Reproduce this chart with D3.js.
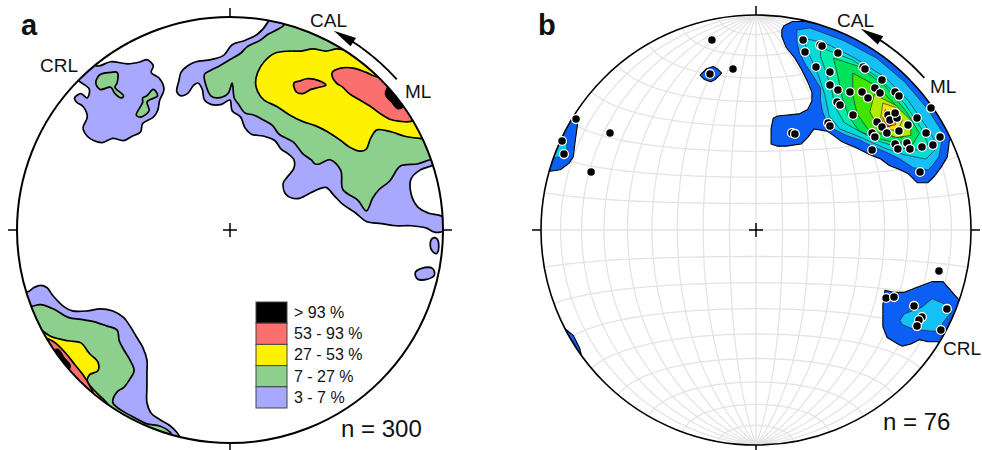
<!DOCTYPE html>
<html><head><meta charset="utf-8">
<script src="https://cdn.jsdelivr.net/npm/d3@7"></script>
<style>body{margin:0;background:#fff}svg{display:block}text{font-family:"Liberation Sans",Arial,Helvetica,sans-serif;fill:#111}</style>
</head><body><svg id="c" width="982" height="450"></svg>
<script>
// ---------- DATA (net coordinates: percent of primitive radius, x east, y north) ----------
// Panel a: contoured density regions (3-7 %, 7-27 %, 27-53 %, 53-93 %, > 93 %)
const aPurple = [
  [[-70,80],[-62,77],[-56,79],[-48,78],[-42,79],[-39,80],[-36,77],[-37,74],[-33,71],[-31,66],[-33,61],[-34,56],[-36,53],[-41,50],[-42,46],[-46,44],[-50,42],[-55,43],[-60,41],[-64,42],[-67,44],[-69,48],[-67,53],[-69,58],[-72,60],[-73,62],[-70,64],[-67,62],[-66,66],[-68,68],[-71,70],[-75,75]],
  [[21,108],[18,98],[13,92],[7,89],[1,87],[-3,82],[-9,80],[-16,79],[-20,77],[-23,74],[-24,70],[-25,65],[-23,63],[-20,64],[-17,68],[-15,69],[-13,66],[-12,61],[-9,59],[-4,59],[0,61],[1,56],[5,53],[7,48],[10,45],[16,44],[21,42],[24,38],[27,36],[30,33],[30,29],[27,25],[25,22],[26,17],[29,15],[33,15],[39,18],[45,20],[49,16],[53,12],[59,8],[64,4],[71,3],[78,2],[85,2],[92,1],[96,-1],[101,0],[100,6],[93,8],[88,11],[85,17],[85,24],[89,28],[97,31],[115,40],[115,120],[21,120]],
  [[-103,-28],[-95,-29],[-92,-27],[-89,-26],[-86,-27],[-83,-31],[-78,-36],[-74,-38],[-67,-38],[-61,-37],[-55,-38],[-50,-41],[-47,-45],[-44,-50],[-41,-55],[-39,-61],[-39,-67],[-39,-74],[-39,-81],[-37,-86],[-33,-89],[-28,-92],[-25,-95],[-22,-100],[-20,-115],[-115,-115],[-115,-28]],
  [[95,-4],[97,-4],[98,-8],[97,-11],[95,-10],[94,-7]],
  [[87,-20],[90,-18],[95,-18],[96,-21],[93,-23],[88,-23]]
];
const aGreen = [
  [[-63,69],[-61,73],[-56,74],[-53,74],[-53,69],[-54,67],[-50,63],[-51,62],[-54,64],[-56,67],[-61,66]],
  [[-36,66],[-34,63],[-38,61],[-39,60],[-38,56],[-42,53],[-44,54],[-42,58],[-41,60],[-41,62],[-39,63]],
  [[30,120],[26,97],[22,94],[18,92],[14,89],[8,86],[5,83],[0,80],[-5,77],[-9,75],[-12,73],[-11,67],[-9,63],[-6,62],[-1,64],[1,69],[2,62],[4,59],[7,55],[11,54],[15,52],[20,49],[23,45],[30,41],[34,36],[38,33],[40,31],[42,31],[47,33],[52,28],[53,19],[60,14],[64,9],[67,15],[70,19],[75,23],[80,30],[88,31],[94,33],[102,34],[120,60],[120,120]],
  [[-115,-36],[-94,-36],[-89,-35],[-83,-37],[-76,-41],[-70,-42],[-64,-43],[-58,-45],[-53,-47],[-52,-52],[-50,-56],[-47,-61],[-45,-66],[-47,-70],[-50,-74],[-53,-76],[-55,-81],[-52,-84],[-45,-88],[-39,-91],[-33,-92],[-28,-95],[-27,-97],[-25,-115],[-115,-115]]
];
const aYellow = [
  [[66,99],[56,85],[50,85],[45,84],[39,85],[33,84],[28,84],[21,83],[16,79],[13,74],[12,69],[13,65],[16,61],[22,58],[28,54],[34,51],[40,49],[46,46],[52,42],[56,39],[61,37],[64,38],[66,43],[69,47],[76,46],[82,44],[89,43],[99,43],[120,60],[110,110]],
  [[-99,-42],[-90,-46],[-84,-50],[-76,-52],[-70,-53],[-66,-58],[-62,-62],[-62,-66],[-66,-68],[-67,-71],[-64,-75],[-61,-78],[-58,-81],[-55,-85],[-54,-88],[-60,-100],[-110,-60]]
];
const aRed = [
  [[30,69],[33,70],[36,71],[42,70],[45,68],[42,67],[38,66],[34,64],[31,65]],
  [[48,74],[52,76],[58,76],[64,74],[69,72],[78,75],[94,61],[88,53],[85,51],[80,51],[75,52],[70,55],[66,58],[61,61],[56,64],[53,67],[50,69],[48,72]],
  [[-94,-52],[-86,-51],[-82,-53],[-77,-58],[-73,-63],[-69,-68],[-66,-73],[-64,-78],[-70,-85]]
];
const aBlack = [
  [[73,64],[76,60],[79,57],[84,61],[77,70]],
  [[-81,-56],[-78,-60],[-75,-64],[-80,-68],[-87,-60]]
];
const legendLabels = ["> 93 %", "53 - 93 %", "27 - 53 %", "7 - 27 %", "3 - 7 %"];
const legendColors = ["#000000", "#fc6f6f", "#fff200", "#8dcf8d", "#a8a8ff"];
const nA = 300;

// Panel b: poles [x, y, count] (count > 1 = coincident duplicates)
const bPoints = [
  [21.9,88.4,1],[22.8,82.8,1],[29.8,86.0,1],[30.7,85.6,1],[38.1,82.3,1],[27.9,75.8,1],[34.4,73.5,1],[49.8,75.8,1],[50.7,74.9,1],
  [34.4,67.4,1],[38.1,65.1,1],[43.7,64.2,1],[49.3,64.2,2],[52.1,61.4,2],[55.3,66.0,1],[57.7,63.7,2],[58.6,69.8,1],[64.7,64.2,1],
  [66.5,62.3,1],[37.7,59.5,1],[39.1,58.1,1],[45.1,53.5,1],[33.5,49.8,1],[34.4,48.4,1],[16.7,45.1,1],[18.1,44.7,1],[56.3,50.2,1],
  [58.6,47.9,2],[61.4,53.5,2],[62.3,51.2,2],[65.6,52.1,1],[64.7,54.4,1],[70.7,48.8,1],[74.9,52.1,1],[60.9,45.1,1],[66.5,46.0,2],
  [54.0,45.1,1],[55.3,43.3,2],[64.7,40.0,1],[66.0,37.7,1],[70.2,40.5,1],[71.6,37.7,1],[77.2,38.6,1],[79.1,45.1,1],[82.3,39.5,1],
  [85.6,43.3,1],[81.4,56.7,1],[54.0,37.2,1],[76.3,27.0,1],
  [-20.5,88.4,1],[-10.7,74.9,1],[-21.4,72.6,2],[-83.7,51.6,1],[-90.2,41.4,1],[-89.3,35.3,1],[-67.9,45.1,1],[-76.7,27.0,1],
  [85.1,-19.1,1],[60.5,-31.6,1],[64.2,-31.2,1],[73.5,-35.3,1],[88.8,-36.7,1],[77.2,-40.5,2],[75.8,-41.9,1],[74.9,-44.7,1],[86.0,-46.5,1]
];
// Panel b: contour levels, lowest first (each level = list of polygons)
const bLevels = [
  [ // level 1
    [[12,93],[13,95],[17,97],[22,97],[24,100],[55,100],[95,62],[102,40],[90,42],[89,34],[86,29],[83,25],[80,22],[75,22],[71,26],[67,28],[62,30],[58,33],[53,35],[47,38],[40,41],[36,44],[33,46],[27,47],[24,43],[21,40],[14,39],[10,39],[7,40],[7,47],[8,52],[10,53],[20,54],[24,56],[26,60],[26,64],[24,69],[21,75],[18,80],[14,85],[12,90]],
    [[-26,72],[-23,75],[-20,76],[-18,75],[-16,73],[-19,70],[-21,69],[-24,70]],
    [[-84,52],[-83,49],[-84,42],[-85,34],[-87,31],[-91,28],[-98,27],[-100,50],[-90,56]],
    [[-90,-45],[-85,-49],[-82,-55],[-81,-59],[-90,-65],[-100,-50]],
    [[60,-28],[64,-29],[69,-29],[74,-27],[82,-24],[87,-24],[94,-32],[102,-40],[96,-54],[84,-52],[80,-52],[76,-51],[72,-53],[68,-54],[66,-53],[61,-50],[59,-45],[59,-40],[59,-35]]
  ],
  [ // level 2
    [[19,93],[25,94],[41,88],[56,80],[69,69],[80,56],[87,45],[86,39],[85,34],[82,30],[80,28],[73,29],[67,33],[61,36],[54,39],[48,42],[42,44],[36,47],[33,50],[31,55],[30,60],[30,66],[27,71],[23,77],[20,83],[19,88]],
    [[-91,44],[-88,42],[-88,37],[-91,34],[-97,33],[-97,45]],
    [[67,-42],[69,-39],[77,-36],[82,-32],[89,-35],[91,-38],[87,-43],[86,-47],[81,-47],[73,-46],[68,-44]]
  ],
  [[[23,89],[32,87],[46,80],[60,71],[71,60],[80,47],[84,40],[83,37],[79,33],[69,35],[60,38],[49,43],[39,47],[34,53],[32,63],[29,72],[25,81],[23,86]]],
  [[[30,85],[45,79],[58,70],[69,59],[77,47],[80,40],[77,37],[68,38],[58,41],[48,46],[41,50],[37,57],[35,66],[32,75],[30,81]]],
  [[[36,80],[48,76],[60,67],[70,55],[76,45],[73,40],[63,41],[55,43],[48,46],[43,53],[40,62],[38,72]]],
  [[[45,73],[56,67],[66,57],[72,47],[68,43],[60,44],[52,47],[47,54],[45,63]]],
  [[[55,63],[65,58],[72,51],[72,44],[65,43],[57,47],[53,55]]],
  [[[59,59],[65,57],[68,51],[66,46],[61,47],[58,52]]],
  [[[60,56],[64,53],[65,49],[61,48],[59,52]]],
  [[[61,52],[64,50],[62,48],[60,49]]]
];
const bColors = ["#0b5ff5", "#14c0f6", "#00dcd6", "#00eea8", "#00e25a", "#3ee600", "#b0ec00", "#f5e400", "#ff9a00", "#ff4a00"];
const panelLabels = ["a", "b"];

// ---------- DRAWING ----------
const svg = d3.select("#c");

function makeScales(cx, cy, R) {
  return {
    x: d3.scaleLinear().domain([-100, 100]).range([cx - R, cx + R]),
    y: d3.scaleLinear().domain([-100, 100]).range([cy + R, cy - R]),
    cx, cy, R
  };
}
function frame(g, s, sw) {
  g.append("circle").attr("cx", s.cx).attr("cy", s.cy).attr("r", s.R)
    .attr("fill", "none").attr("stroke", "#000").attr("stroke-width", sw);
  const t = 9;
  const ticks = [[s.cx, s.cy - s.R, s.cx, s.cy - s.R - t], [s.cx, s.cy + s.R, s.cx, s.cy + s.R + t],
                 [s.cx - s.R, s.cy, s.cx - s.R - t, s.cy], [s.cx + s.R, s.cy, s.cx + s.R + t, s.cy],
                 [s.cx - 7, s.cy, s.cx + 7, s.cy], [s.cx, s.cy - 7, s.cx, s.cy + 7]];
  g.selectAll(null).data(ticks).join("line")
    .attr("x1", d => d[0]).attr("y1", d => d[1]).attr("x2", d => d[2]).attr("y2", d => d[3])
    .attr("stroke", "#000").attr("stroke-width", 1.5);
}
function arrow(g, s) {
  const rr = s.R * 1.055;
  const a0 = 48 * Math.PI / 180, a1 = 33 * Math.PI / 180, aTip = 27.5 * Math.PI / 180;
  const arc = d3.lineRadial().angle(d => d).radius(rr);
  g.append("path").attr("transform", `translate(${s.cx},${s.cy})`)
    .attr("d", arc(d3.range(a1, a0 + 0.001, 0.01)))
    .attr("fill", "none").attr("stroke", "#000").attr("stroke-width", 1.8);
  const tip = d3.pointRadial(aTip, rr), b1 = d3.pointRadial(a1 + 0.005, rr + 5), b2 = d3.pointRadial(a1 + 0.005, rr - 5);
  g.append("path").attr("transform", `translate(${s.cx},${s.cy})`)
    .attr("d", `M${tip}L${b1}L${b2}Z`).attr("fill", "#000");
}
function label(g, txt, x, y, size, weight) {
  g.append("text").attr("x", x).attr("y", y).attr("font-size", size).attr("font-weight", weight || "normal").text(txt);
}

// ----- Panel a -----
const sa = makeScales(230, 230, 213);
const gA = svg.append("g");
svg.append("clipPath").attr("id", "clipA").append("circle").attr("cx", sa.cx).attr("cy", sa.cy).attr("r", sa.R);
const lineA = d3.line().x(d => sa.x(d[0])).y(d => sa.y(d[1])).curve(d3.curveCatmullRomClosed.alpha(0.5));
const gAc = gA.append("g").attr("clip-path", "url(#clipA)");
[[aPurple, legendColors[4]], [aGreen, legendColors[3]], [aYellow, legendColors[2]], [aRed, legendColors[1]], [aBlack, legendColors[0]]]
  .forEach(([polys, col]) => {
    gAc.append("g").selectAll("path").data(polys).join("path")
      .attr("d", lineA).attr("fill", col).attr("stroke", "#000").attr("stroke-width", 1.7).attr("stroke-linejoin", "round");
  });
frame(gA, sa, 2);
arrow(gA, sa);
label(gA, panelLabels[0], 21, 35, 29, "bold");
label(gA, "CRL", 40, 72, 19);
label(gA, "CAL", 310, 27, 19);
label(gA, "ML", 405, 98, 19);
label(gA, "n = " + nA, 341, 437, 24);
// legend
const lg = gA.append("g");
lg.selectAll("rect").data(legendLabels).join("rect")
  .attr("x", 256).attr("y", (d, i) => 302 + i * 21.2).attr("width", 31).attr("height", 21.2)
  .attr("fill", (d, i) => legendColors[i]).attr("stroke", "#444").attr("stroke-width", 1);
lg.selectAll("text").data(legendLabels).join("text")
  .attr("x", 294).attr("y", (d, i) => 302 + i * 21.2 + 16).attr("font-size", 16).text(d => d);

// ----- Panel b -----
const sb = makeScales(756, 230, 215);
const gB = svg.append("g");
svg.append("clipPath").attr("id", "clipB").append("circle").attr("cx", sb.cx).attr("cy", sb.cy).attr("r", sb.R);
const proj = d3.geoAzimuthalEqualArea().scale(sb.R / Math.SQRT2).translate([sb.cx, sb.cy]).clipAngle(90).precision(0.1);
const lines = [];
d3.range(-80, 81, 10).forEach(lon => lines.push(d3.range(-90, 90.1, 2).map(lat => [lon, lat])));
d3.range(-80, 81, 10).forEach(lat => lines.push(d3.range(-90, 90.1, 2).map(lon => [lon, lat])));
gB.append("path").datum({type: "MultiLineString", coordinates: lines})
  .attr("d", d3.geoPath(proj)).attr("fill", "none").attr("stroke", "#e4e4e4").attr("stroke-width", 1.3);
const lineB = d3.line().x(d => sb.x(d[0])).y(d => sb.y(d[1])).curve(d3.curveLinearClosed);
const gBc = gB.append("g").attr("clip-path", "url(#clipB)");
bLevels.forEach((polys, i) => {
  gBc.append("g").selectAll("path").data(polys).join("path")
    .attr("d", lineB).attr("fill", bColors[i])
    .attr("stroke", i === 0 ? "#000" : "#1a1a1a").attr("stroke-width", i === 0 ? 1.1 : 0.6).attr("stroke-linejoin", "round");
});
frame(gB, sb, 1.6);
arrow(gB, sb);
gB.append("g").selectAll("circle").data(bPoints).join("circle")
  .attr("cx", d => sb.x(d[0])).attr("cy", d => sb.y(d[1])).attr("r", 4.4)
  .attr("fill", "#000").attr("stroke", "#fff").attr("stroke-width", 1.3);
label(gB, panelLabels[1], 538, 35, 29, "bold");
label(gB, "CAL", 837, 27, 19);
label(gB, "ML", 930, 93, 19);
label(gB, "CRL", 943, 355, 19);
label(gB, "n = " + d3.sum(bPoints, d => d[2]), 883, 430, 24);
</script></body></html>
